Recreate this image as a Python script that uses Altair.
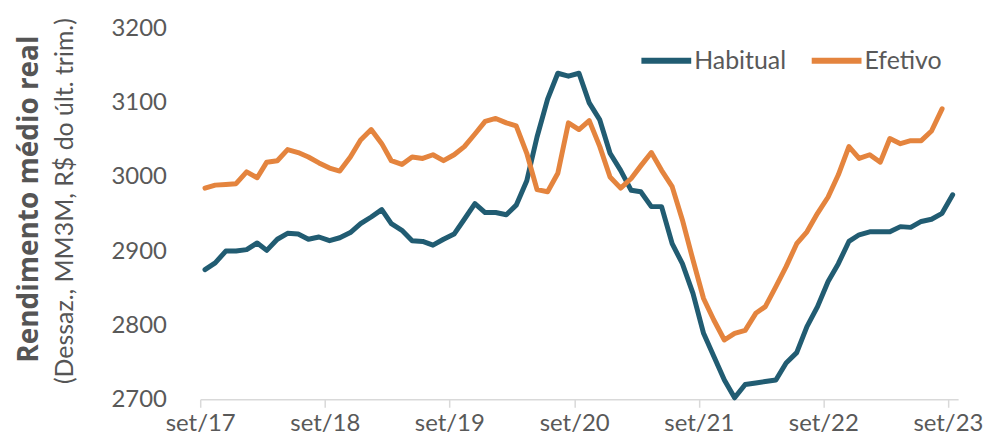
import altair as alt
import pandas as pd

# monthly points (MM3M), set/17 .. set/23
habitual = [2875, 2884, 2900, 2900, 2902, 2911, 2901, 2916, 2924, 2923, 2916, 2919,
            2914, 2918, 2925, 2937, 2946, 2956, 2937, 2928, 2914, 2913, 2908, 2916,
            2923, 2943, 2964, 2952, 2952, 2949, 2962, 2995, 3054, 3105, 3140, 3136,
            3140, 3100, 3077, 3032, 3009, 2982, 2980, 2960, 2960, 2910, 2883, 2843,
            2789, 2758, 2726, 2702, 2720, 2722, 2724, 2726, 2749, 2763, 2798, 2825,
            2859, 2883, 2913, 2922, 2926, 2926, 2926, 2933, 2932, 2940, 2943, 2951,
            2976]
efetivo = [2985, 2989, 2990, 2991, 3007, 2999, 3020, 3022, 3037, 3033, 3027, 3019,
           3012, 3008, 3027, 3050, 3064, 3045, 3022, 3017, 3027, 3025, 3030, 3022,
           3030, 3041, 3058, 3075, 3079, 3073, 3069, 3032, 2983, 2980, 3005, 3073,
           3064, 3076, 3041, 3000, 2985, 2998, 3015, 3033, 3009, 2987, 2942, 2888,
           2836, 2807, 2780, 2789, 2793, 2816, 2825, 2852, 2879, 2910, 2926, 2951,
           2973, 3003, 3041, 3025, 3030, 3020, 3052, 3045, 3049, 3049, 3062, 3092]

dates = []
y, m = 2017, 9
for _ in range(len(habitual)):
    dates.append(f"{y}-{m:02d}-15")
    m += 1
    if m > 12:
        m, y = 1, y + 1

series = ["Habitual", "Efetivo"]
colors = ["#215C72", "#E4843E"]
y_ticks = [2700, 2800, 2900, 3000, 3100, 3200]
tick_years = list(range(2017, 2024))

rows = []
for d, v in zip(dates, habitual):
    rows.append({"date": d, "value": v, "serie": "Habitual"})
for d, v in zip(dates, efetivo):
    rows.append({"date": d, "value": v, "serie": "Efetivo"})
df = pd.DataFrame(rows)

FONT = "Lato"
GRAY = "#595959"

lines = alt.Chart(df).mark_line(strokeWidth=5, strokeCap="round", strokeJoin="round").encode(
    x=alt.X(
        "date:T",
        title=None,
        scale=alt.Scale(
            type="utc",
            domain=[alt.DateTime(year=2017, month=9, date=1, utc=True),
                    alt.DateTime(year=2023, month=10, date=1, utc=True)],
        ),
        axis=alt.Axis(
            values=[alt.DateTime(year=yy, month=9, date=1, utc=True) for yy in tick_years],
            labelExpr="'set/' + utcFormat(datum.value, '%y')",
            grid=False,
            domainColor="#D9D9D9", domainWidth=1.5,
            tickColor="#D9D9D9", tickWidth=1.5, tickSize=8,
            labelFont=FONT, labelFontSize=24, labelColor=GRAY,
            labelPadding=4, labelFlush=False, labelOverlap=False, labelBound=False,
        ),
    ),
    y=alt.Y(
        "value:Q",
        title=None,
        scale=alt.Scale(domain=[2700, 3200], nice=False, zero=False),
        axis=alt.Axis(
            values=y_ticks, format="d", grid=False, domain=False, ticks=False,
            labelFont=FONT, labelFontSize=24, labelColor=GRAY, labelPadding=34,
        ),
    ),
    color=alt.Color(
        "serie:N",
        scale=alt.Scale(domain=series, range=colors),
        legend=alt.Legend(
            title=None, orient="none", legendX=440, legendY=4, direction="horizontal",
            symbolType="stroke", symbolSize=2500, symbolStrokeWidth=6,
            labelFont=FONT, labelFontSize=25, labelColor=GRAY, labelOffset=0,
            columnPadding=13,
        ),
    ),
)

t1 = alt.Chart(pd.DataFrame({"t": ["Rendimento médio real"]})).mark_text(
    angle=270, font="Open Sans", fontWeight="bold", fontSize=28, color="#555555",
    align="center", baseline="middle",
).encode(x=alt.value(-171), y=alt.value(171), text="t:N")

t2 = alt.Chart(pd.DataFrame({"t": ["(Dessaz., MM3M, R$ do últ. trim.)"]})).mark_text(
    angle=270, font=FONT, fontSize=25, color="#555555",
    align="center", baseline="middle",
).encode(x=alt.value(-136), y=alt.value(173), text="t:N")

chart = alt.layer(lines, t1, t2).properties(
    width=761, height=372,
    autosize=alt.AutoSizeParams(type="none"),
    padding={"left": 193, "top": 20, "right": 28, "bottom": 39},
    background="white",
).configure_view(stroke=None)

chart.save("out.html", embed_options={"renderer": "svg", "actions": False})
